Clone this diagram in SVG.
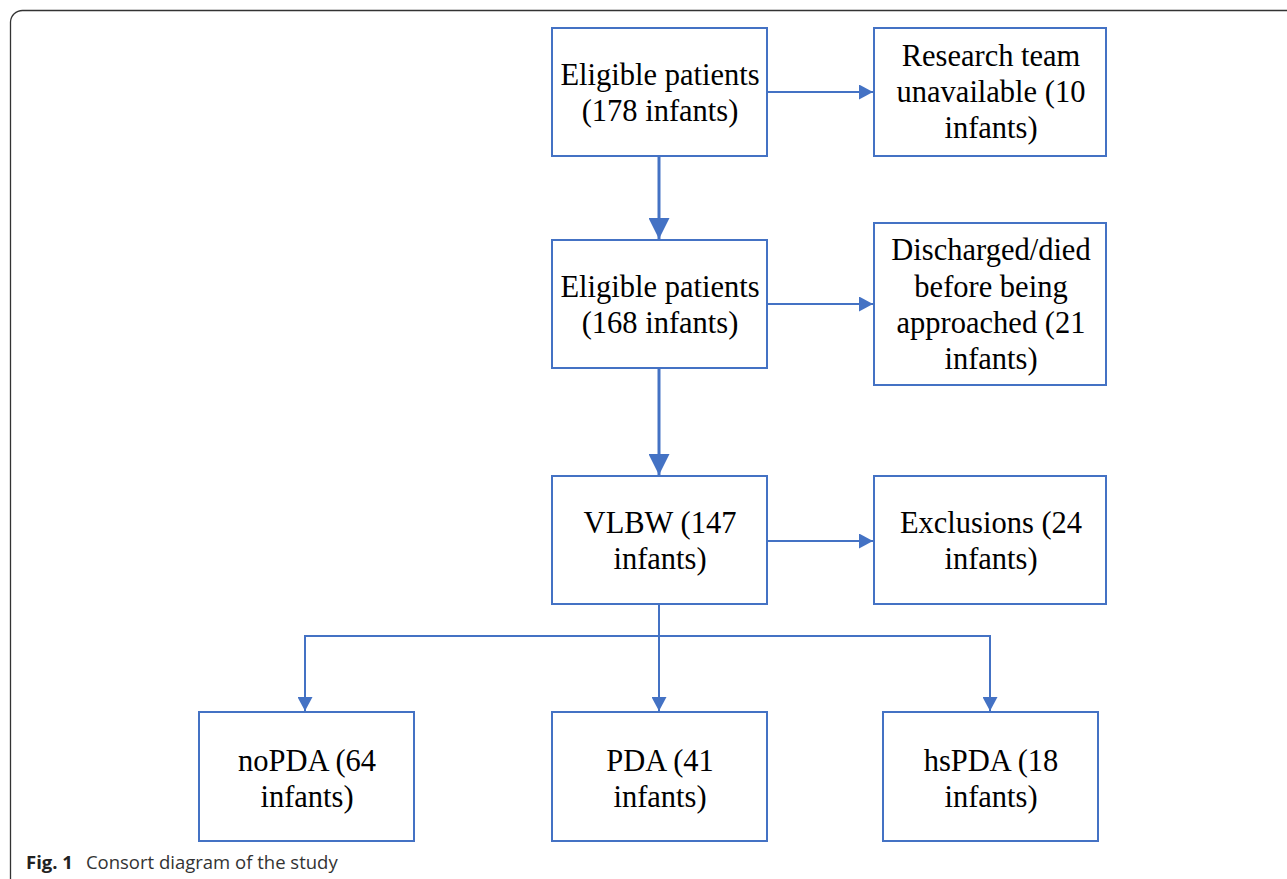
<svg xmlns="http://www.w3.org/2000/svg" width="1287" height="879" viewBox="0 0 1287 879">
<defs>
<style>
.box{fill:#fff;stroke:#4472C4;stroke-width:2}
.t{font-family:"Liberation Serif",serif;font-size:30.5px;fill:#000;text-anchor:middle}
.c{fill:none;stroke:#4472C4;stroke-width:2}
.cm{fill:none;stroke:#4472C4;stroke-width:3}
.cap{font-family:"Open Sans",sans-serif;font-size:18.5px;fill:#333}
</style>
<marker id="big" markerWidth="7" markerHeight="7" refX="7" refY="3.5" orient="auto" markerUnits="strokeWidth" viewBox="0 0 7 7"><path d="M0,0 L7,3.5 L0,7 Z" fill="#4472C4"/></marker>
<marker id="sm" markerWidth="7" markerHeight="7.5" refX="7" refY="3.75" orient="auto" markerUnits="strokeWidth" viewBox="0 0 7 7.5"><path d="M0,0 L7,3.75 L0,7.5 Z" fill="#4472C4"/></marker>
</defs>
<rect width="1287" height="879" fill="#fff"/>
<path d="M10.5,879 V22 A12,12 0 0 1 22.5,10.5 H1287" fill="none" stroke="#333" stroke-width="1.3"/>
<g id="connectors">
<line class="cm" x1="659" y1="157" x2="659" y2="239" marker-end="url(#big)"/>
<line class="cm" x1="659" y1="369" x2="659" y2="475" marker-end="url(#big)"/>
<line class="c" x1="767" y1="92" x2="873" y2="92" marker-end="url(#sm)"/>
<line class="c" x1="767" y1="304" x2="873" y2="304" marker-end="url(#sm)"/>
<line class="c" x1="767" y1="541" x2="873" y2="541" marker-end="url(#sm)"/>
<polyline class="c" points="659,605 659,636 305,636 305,711" marker-end="url(#sm)"/>
<line class="c" x1="659" y1="636" x2="659" y2="711" marker-end="url(#sm)"/>
<polyline class="c" points="659,636 990,636 990,711" marker-end="url(#sm)"/>
</g>
<g id="n1"><rect class="box" x="552" y="28" width="215" height="128"/><text class="t" x="660" y="85">Eligible patients</text><text class="t" x="660" y="121">(178 infants)</text></g>
<g id="r1"><rect class="box" x="874" y="28" width="232" height="128"/><text class="t" x="991" y="66">Research team</text><text class="t" x="991" y="102">unavailable (10</text><text class="t" x="991" y="138">infants)</text></g>
<g id="n2"><rect class="box" x="552" y="240" width="215" height="128"/><text class="t" x="660" y="297">Eligible patients</text><text class="t" x="660" y="333">(168 infants)</text></g>
<g id="r2"><rect class="box" x="874" y="223" width="232" height="162"/><text class="t" x="991" y="260">Discharged/died</text><text class="t" x="991" y="297">before being</text><text class="t" x="991" y="333">approached (21</text><text class="t" x="991" y="369">infants)</text></g>
<g id="n3"><rect class="box" x="552" y="476" width="215" height="128"/><text class="t" x="660" y="533">VLBW (147</text><text class="t" x="660" y="569">infants)</text></g>
<g id="r3"><rect class="box" x="874" y="476" width="232" height="128"/><text class="t" x="991" y="533">Exclusions (24</text><text class="t" x="991" y="569">infants)</text></g>
<g id="b1"><rect class="box" x="199" y="712" width="215" height="129"/><text class="t" x="307" y="771">noPDA (64</text><text class="t" x="307" y="807">infants)</text></g>
<g id="b2"><rect class="box" x="552" y="712" width="215" height="129"/><text class="t" x="660" y="771">PDA (41</text><text class="t" x="660" y="807">infants)</text></g>
<g id="b3"><rect class="box" x="883" y="712" width="215" height="129"/><text class="t" x="991" y="771">hsPDA (18</text><text class="t" x="991" y="807">infants)</text></g>
<text class="cap" x="26" y="869"><tspan font-weight="bold" fill="#222">Fig. 1</tspan><tspan dx="13">Consort diagram of the study</tspan></text>
</svg>
